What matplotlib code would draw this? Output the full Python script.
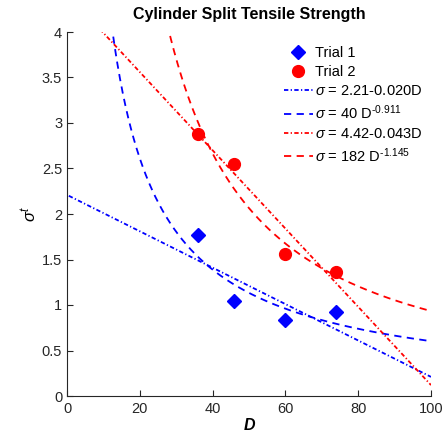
import numpy as np
import matplotlib
matplotlib.use("Agg")
import matplotlib.pyplot as plt

plt.rcParams['font.family'] = ['Liberation Sans', 'DejaVu Sans']
plt.rcParams['mathtext.fontset'] = 'custom'
plt.rcParams['mathtext.rm'] = 'Liberation Sans'
plt.rcParams['mathtext.it'] = 'Liberation Sans:italic'

D = [36, 46, 60, 74]
trial1 = [1.77, 1.04, 0.83, 0.92]
trial2 = [2.88, 2.55, 1.56, 1.36]

lin1 = (2.21, -0.020)
pow1 = (40, -0.911)
lin2 = (4.42, -0.043)
pow2 = (182, -1.145)

labels = ['Trial 1', 'Trial 2',
          r'$\sigma$ = 2.21-0.020D',
          '$\\sigma$ = 40 D$^{\u20100.911}$',
          r'$\sigma$ = 4.42-0.043D',
          '$\\sigma$ = 182 D$^{\u20101.145}$']

fig = plt.figure(figsize=(4.48, 4.44), dpi=100)
ax = fig.add_axes([67/448, 48/444, 364/448, 364/444])

dashdot = (2.4, 1.3, 0.7, 1.3)
dashed = (4.0, 3.0)
lw = 1.3

xs = np.linspace(0.5, 100, 800)
h1, = ax.plot(D, trial1, linestyle='none', marker='D', color='blue', markersize=7.5)
h2, = ax.plot(D, trial2, linestyle='none', marker='o', color='red', markersize=8.5)
h3, = ax.plot(xs, lin1[0] + lin1[1]*xs, color='blue', linewidth=lw, dashes=dashdot)
h4, = ax.plot(xs, pow1[0]*xs**pow1[1], color='blue', linewidth=lw, dashes=dashed)
h5, = ax.plot(xs, lin2[0] + lin2[1]*xs, color='red', linewidth=lw, dashes=dashdot)
h6, = ax.plot(xs, pow2[0]*xs**pow2[1], color='red', linewidth=lw, dashes=dashed)

ax.set_xlim(0, 100)
ax.set_ylim(0, 4)
ax.set_xticks([0, 20, 40, 60, 80, 100])
ax.set_yticks([0, 0.5, 1, 1.5, 2, 2.5, 3, 3.5, 4])
ax.set_yticklabels(['0', '0.5', '1', '1.5', '2', '2.5', '3', '3.5', '4'])
for s in ['top', 'right']:
    ax.spines[s].set_visible(False)
for s in ['left', 'bottom']:
    ax.spines[s].set_color('#262626')
    ax.spines[s].set_linewidth(0.8)
ax.tick_params(direction='in', length=4, width=0.8, colors='#262626', labelsize=10.5)
ax.tick_params(axis='x', pad=4)

ax.set_title('Cylinder Split Tensile Strength', fontsize=11.5, fontweight='bold', pad=9)
ax.set_xlabel('D', fontsize=11.5, fontweight='bold', style='italic', labelpad=2)
ax.set_ylabel(r'$\sigma^t$', fontsize=12, labelpad=2)

leg = ax.legend([h1, h2, h3, h4, h5, h6], labels, loc='upper left',
                bbox_to_anchor=(278/448, 1 - 40/444), bbox_transform=fig.transFigure,
                frameon=False, fontsize=10.5, handlelength=2.0, handletextpad=0.15,
                labelspacing=0.35, borderaxespad=0)

fig.savefig('out.png', dpi=100)
